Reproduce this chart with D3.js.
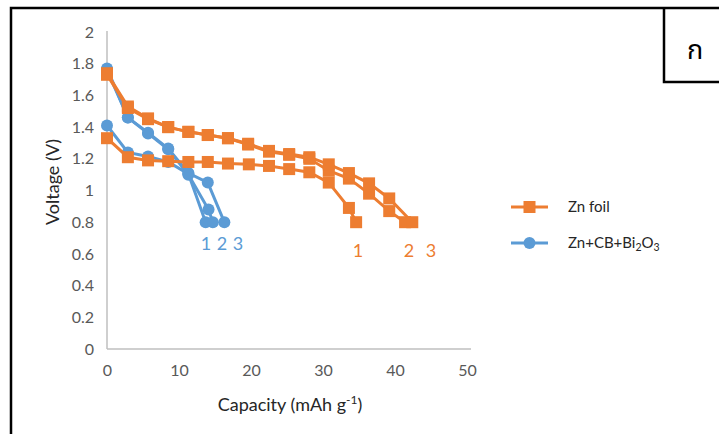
<!DOCTYPE html>
<head>
<meta charset="utf-8">
<script src="https://d3js.org/d3.v7.min.js"></script>
<style>
    body{margin:0;background:#fff;}
    svg text{font-family:Lato,"Open Sans",sans-serif;}
</style>
</head>
<body>
<div id="container"></div>
<script>
    // capacity (mAh/g) and voltage (V) for each discharge run
    var znFoil1Cap = [0, 2.9, 5.7, 8.5, 11.3, 14.0, 16.8, 19.7, 22.5, 25.3, 28.1, 30.8, 33.6, 34.6];
    var znFoil1V   = [1.33, 1.21, 1.19, 1.185, 1.18, 1.18, 1.17, 1.165, 1.155, 1.135, 1.115, 1.05, 0.89, 0.80];
    var znFoil2Cap = [0, 2.9, 5.7, 8.5, 11.3, 14.0, 16.8, 19.6, 22.5, 25.3, 28.1, 30.8, 33.6, 36.4, 39.2, 41.4];
    var znFoil2V   = [1.73, 1.52, 1.45, 1.40, 1.37, 1.35, 1.33, 1.29, 1.245, 1.225, 1.20, 1.125, 1.075, 0.98, 0.87, 0.80];
    var znFoil3Cap = [0, 2.9, 5.7, 8.5, 11.3, 14.0, 16.8, 19.6, 22.5, 25.3, 28.1, 30.8, 33.6, 36.4, 39.2, 42.4];
    var znFoil3V   = [1.74, 1.53, 1.455, 1.40, 1.37, 1.35, 1.33, 1.295, 1.25, 1.23, 1.21, 1.165, 1.11, 1.045, 0.95, 0.80];
    var znCb1Cap = [0, 2.9, 5.7, 8.5, 11.3, 13.7];
    var znCb1V   = [1.41, 1.24, 1.215, 1.18, 1.105, 0.80];
    var znCb2Cap = [0, 2.9, 5.7, 8.5, 11.3, 14.1, 14.7];
    var znCb2V   = [1.76, 1.46, 1.36, 1.26, 1.10, 0.88, 0.80];
    var znCb3Cap = [0, 2.9, 5.7, 8.5, 11.3, 14.0, 16.3];
    var znCb3V   = [1.77, 1.46, 1.365, 1.265, 1.11, 1.05, 0.80];

    var xTicks = [0, 10, 20, 30, 40, 50];
    var yTicks = [0, 0.2, 0.4, 0.6, 0.8, 1, 1.2, 1.4, 1.6, 1.8, 2];
    var runLabels = ['1', '2', '3'];
    var seriesNames = ['Zn foil', 'Zn+CB+Bi'];

    var orange = '#ED7D31', blue = '#5B9BD5';

    function zip(c, v){ return c.map(function(d,i){ return [d, v[i]]; }); }
    var foilRuns = [zip(znFoil1Cap, znFoil1V), zip(znFoil2Cap, znFoil2V), zip(znFoil3Cap, znFoil3V)];
    var cbRuns = [zip(znCb1Cap, znCb1V), zip(znCb2Cap, znCb2V), zip(znCb3Cap, znCb3V)];

    var svg = d3.select('#container').append('svg').attr('width', 719).attr('height', 434);

    // frame and corner box
    svg.append('path').attr('d', 'M11,434 L11,8 L719,8').attr('fill', 'none').attr('stroke', '#000').attr('stroke-width', 2.5);
    svg.append('path').attr('d', 'M664,8 L664,82 L719,82').attr('fill', 'none').attr('stroke', '#000').attr('stroke-width', 2.5);
    svg.append('text').text('ก').attr('x', 695).attr('y', 59).attr('text-anchor', 'middle')
        .style('font-size', '27px').style('font-family', '"Noto Sans Thai","Noto Sans",sans-serif').attr('fill', '#000');

    var x = d3.scaleLinear().domain([0, 50]).range([107, 467]);
    var y = d3.scaleLinear().domain([0, 2]).range([349, 32]);

    // axes
    var xAxis = svg.append('g').attr('transform', 'translate(0,' + y(0) + ')')
        .call(d3.axisBottom(x).tickValues(xTicks).tickSize(0).tickPadding(16).tickFormat(d3.format('d')));
    var yAxis = svg.append('g').attr('transform', 'translate(' + x(0) + ',0)')
        .call(d3.axisLeft(y).tickValues(yTicks).tickSize(0).tickPadding(13).tickFormat(function(d){ return String(d); }));
    xAxis.select('.domain').attr('d', 'M' + x(0) + ',0H' + (x(50) + 4));
    yAxis.select('.domain').attr('d', 'M0,' + y(0) + 'V' + (y(2) - 1));
    [xAxis, yAxis].forEach(function(a){
        a.select('.domain').attr('stroke', '#BFBFBF').attr('stroke-width', 1.5);
        a.selectAll('text').attr('fill', '#595959').style('font-size', '16px').style('font-family', 'Lato,sans-serif');
    });

    svg.append('text').text('Voltage (V)').attr('transform', 'translate(59,182) rotate(-90)')
        .attr('text-anchor', 'middle').attr('fill', '#262626').style('font-size', '18px');
    var xt = svg.append('text').attr('x', 290).attr('y', 411).attr('text-anchor', 'middle')
        .attr('fill', '#262626').style('font-size', '18px');
    xt.append('tspan').text('Capacity (mAh g');
    xt.append('tspan').text('-1').attr('dy', -7).style('font-size', '12px');
    xt.append('tspan').text(')').attr('dy', 7);

    var line = d3.line().x(function(d){ return x(d[0]); }).y(function(d){ return y(d[1]); });

    function drawRuns(runs, color, marker){
        var g = svg.append('g');
        runs.forEach(function(run){
            g.append('path').attr('d', line(run)).attr('fill', 'none').attr('stroke', color).attr('stroke-width', 3);
        });
        runs.forEach(function(run){
            if (marker === 'square') {
                g.selectAll(null).data(run).enter().append('rect')
                    .attr('x', function(d){ return x(d[0]) - 6; }).attr('y', function(d){ return y(d[1]) - 6; })
                    .attr('width', 12).attr('height', 12).attr('fill', color);
            } else {
                g.selectAll(null).data(run).enter().append('circle')
                    .attr('cx', function(d){ return x(d[0]); }).attr('cy', function(d){ return y(d[1]); })
                    .attr('r', 6).attr('fill', color);
            }
        });
    }
    drawRuns(cbRuns, blue, 'circle');
    drawRuns(foilRuns, orange, 'square');

    // run numbers below the curve ends
    var foilLabelX = [358, 409, 431], cbLabelX = [206, 222, 238];
    svg.append('g').selectAll('text').data(runLabels).enter().append('text').text(function(d){ return d; })
        .attr('x', function(d,i){ return foilLabelX[i]; }).attr('y', 257).attr('text-anchor', 'middle')
        .attr('fill', orange).style('font-size', '18px');
    svg.append('g').selectAll('text').data(runLabels).enter().append('text').text(function(d){ return d; })
        .attr('x', function(d,i){ return cbLabelX[i]; }).attr('y', 250).attr('text-anchor', 'middle')
        .attr('fill', blue).style('font-size', '18px');

    // legend
    var leg = svg.append('g');
    leg.append('line').attr('x1', 511).attr('x2', 548).attr('y1', 207).attr('y2', 207).attr('stroke', orange).attr('stroke-width', 3);
    leg.append('rect').attr('x', 523.5).attr('y', 201).attr('width', 12).attr('height', 12).attr('fill', orange);
    leg.append('text').text(seriesNames[0]).attr('x', 568).attr('y', 212).attr('fill', '#262626').style('font-size', '15px');
    leg.append('line').attr('x1', 511).attr('x2', 548).attr('y1', 243).attr('y2', 243).attr('stroke', blue).attr('stroke-width', 3);
    leg.append('circle').attr('cx', 529.5).attr('cy', 243).attr('r', 6).attr('fill', blue);
    var lt = leg.append('text').attr('x', 568).attr('y', 248).attr('fill', '#262626').style('font-size', '15px');
    lt.append('tspan').text(seriesNames[1]);
    lt.append('tspan').text('2').attr('dy', 3).style('font-size', '10.5px');
    lt.append('tspan').text('O').attr('dy', -3);
    lt.append('tspan').text('3').attr('dy', 3).style('font-size', '10.5px');
</script>
</body>
